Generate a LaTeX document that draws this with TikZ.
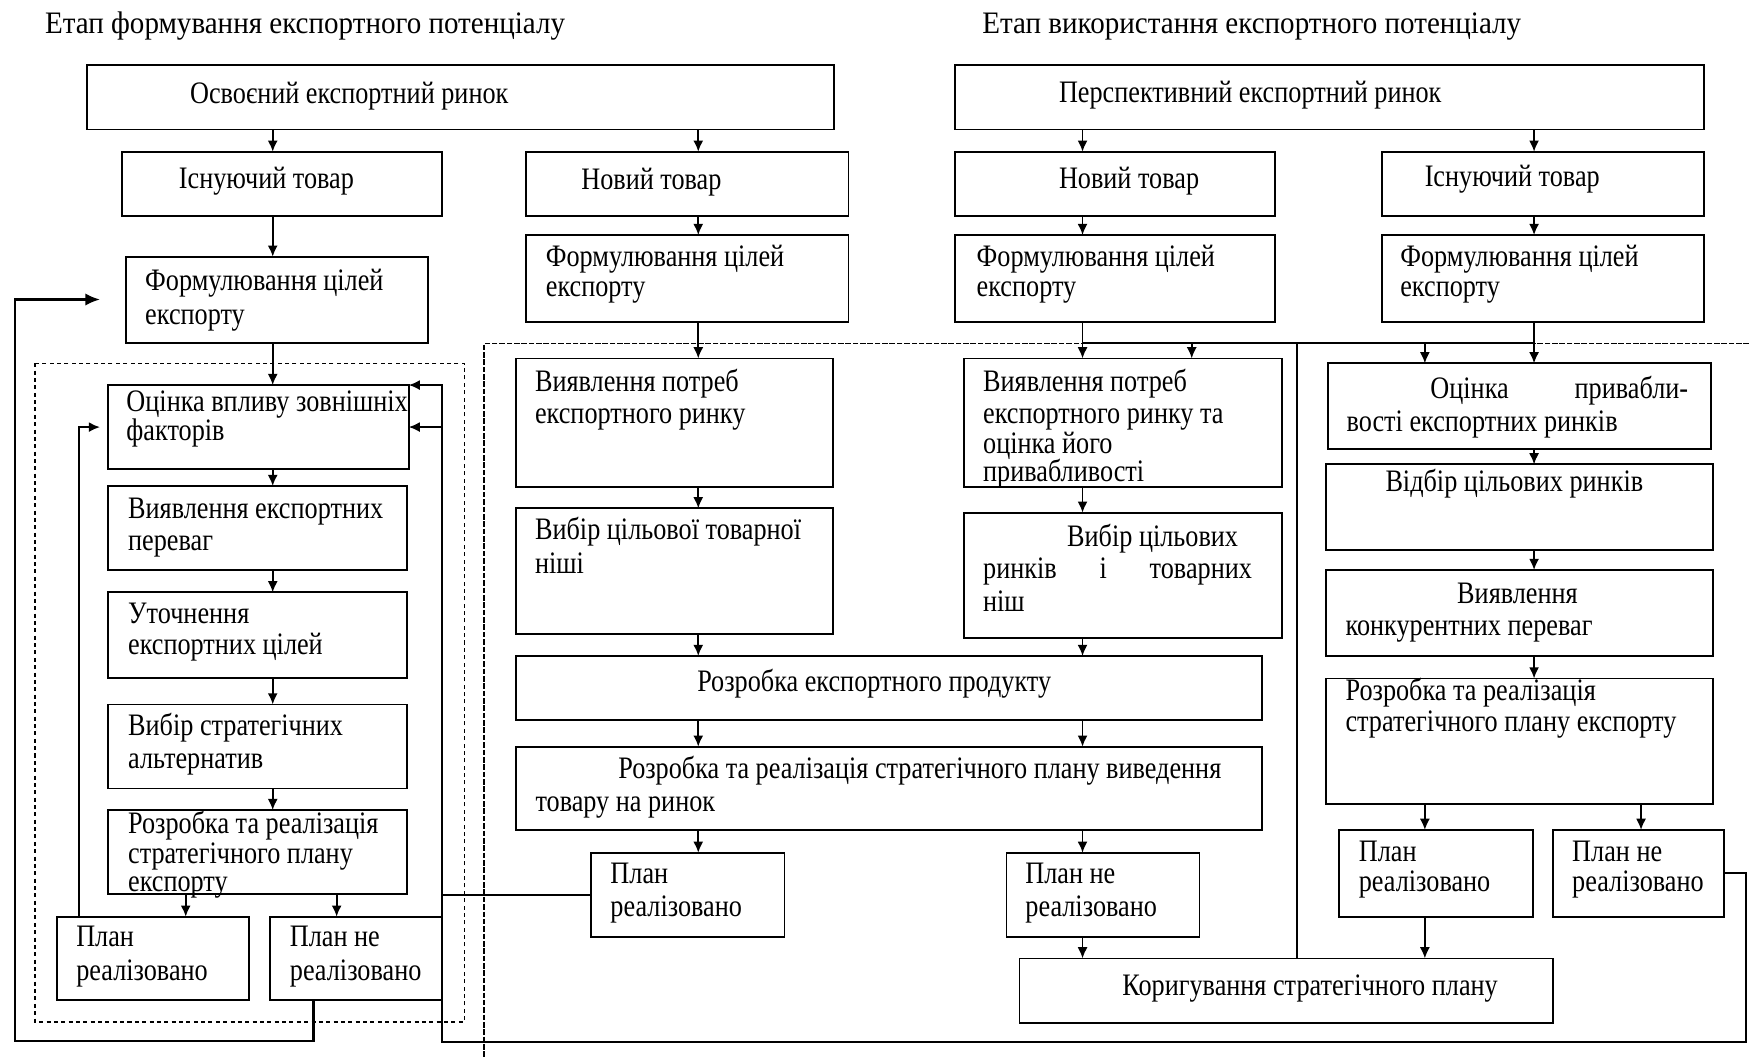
\documentclass[tikz,border=0pt]{standalone}
\usepackage{fontspec}
\setmainfont{Liberation Serif}[FakeStretch=0.84]
\newfontfamily\titlefont{Liberation Serif}[FakeStretch=0.93]
\usetikzlibrary{arrows.meta}
\newcommand\mkbox[5]{\node[boxs, minimum width={(#4-#2)*0.5pt}, minimum height={(#5-#3)*0.5pt}] (#1) at ({(#2+#4)/2},{(#3+#5)/2}) {};}
\newcommand\mktxt[4]{\node[txt] (#1) at (#2,#3) {#4};}
\begin{document}
\begin{tikzpicture}[x=0.5pt,y=-0.5pt,
 boxs/.style={draw, line width=0.8pt, inner sep=0pt, outer sep=0pt},
 txt/.style={anchor=base west, inner sep=0pt, font=\fontsize{14}{16}\selectfont},
 ttl/.style={anchor=base west, inner sep=0pt, font=\titlefont\fontsize{14}{16}\selectfont},
 ln/.style={line width=0.8pt},
 arr/.style={line width=0.8pt, -{Latex[length=5pt,width=4.5pt]}},
 bigarr/.style={line width=1pt, -{Latex[length=6.5pt,width=5.5pt]}},
 sdash/.style={line width=0.7pt, dash pattern=on 1.8pt off 1.5pt},
 ldash/.style={line width=0.6pt, dash pattern=on 2.5pt off 0.8pt}]
\useasboundingbox (0,0) rectangle (1568,949);

% dashed regions
\draw[sdash] (31.4,325.7) rectangle (416.3,916);
\draw[ldash] (1568,307.8) -- (434,307.8) -- (434,949);

% boxes
\mkbox{A}{78}{58.3}{748}{116}
\mkbox{B}{856.5}{58.3}{1527.5}{116}
\mkbox{C1}{109.2}{136}{396}{193.4}
\mkbox{C2}{471.5}{136}{760.7}{193.4}
\mkbox{C3}{856.5}{136}{1143.1}{193.4}
\mkbox{C4}{1238.7}{136}{1527.5}{193.4}
\mkbox{D1}{113.2}{230.1}{383.9}{307.8}
\mkbox{D2}{471.5}{210.7}{760.7}{288.4}
\mkbox{D3}{856.5}{210.7}{1143.1}{288.4}
\mkbox{D4}{1238.7}{210.7}{1527.5}{288.4}
\mkbox{E1}{96.5}{345.2}{366.4}{420.5}
\mkbox{E2}{96.5}{435.7}{364.6}{511}
\mkbox{E3}{96.5}{531}{364.6}{608}
\mkbox{E4}{96.5}{631.5}{364.6}{706.8}
\mkbox{E5}{96.5}{726.2}{364.6}{801.5}
\mkbox{F1}{51.4}{821.8}{223.2}{896.5}
\mkbox{F2}{242}{821.8}{396}{896.5}
\mkbox{G1}{462.4}{321.3}{746.8}{436.3}
\mkbox{G2}{462.4}{455.7}{746.8}{568.7}
\mkbox{G3}{864}{321.3}{1149.1}{436.3}
\mkbox{G4}{864}{459.6}{1149.1}{572.3}
\mkbox{H}{462.4}{588.1}{1131.3}{645.5}
\mkbox{I}{462.4}{669.4}{1131.3}{744.1}
\mkbox{J1}{530}{764.5}{703.4}{839.8}
\mkbox{J2}{902.4}{764.5}{1075.3}{839.8}
\mkbox{K}{913.9}{859.2}{1392}{916.9}
\mkbox{L1}{1190.6}{325.7}{1533.7}{402.6}
\mkbox{L2}{1188.8}{416.3}{1536}{493.1}
\mkbox{L3}{1188.8}{511}{1536}{587.9}
\mkbox{L4}{1188.8}{608.2}{1536}{720.8}
\mkbox{M1}{1200.5}{744}{1374.6}{821.8}
\mkbox{M2}{1392}{744}{1545.7}{821.8}

% column coordinates
\coordinate (xa) at (244.5,0);
\coordinate (xb) at (626,0);
\coordinate (xc) at (970.5,0);
\coordinate (xd) at (1375.3,0);
\coordinate (xe) at (1068.4,0);
\coordinate (xf) at (1277.4,0);
\coordinate (xg) at (1471.2,0);
\coordinate (xh) at (166.5,0);
\coordinate (xi) at (301.8,0);
\coordinate (bus) at (0,307.5);
\coordinate (dv) at (1162.8,0);

% connectors
\draw[arr] (A.south -| xa) -- (C1.north -| xa);
\draw[arr] (A.south -| xb) -- (C2.north -| xb);
\draw[arr] (B.south -| xc) -- (C3.north -| xc);
\draw[arr] (B.south -| xd) -- (C4.north -| xd);
\draw[arr] (C1.south -| xa) -- (D1.north -| xa);
\draw[arr] (C2.south -| xb) -- (D2.north -| xb);
\draw[arr] (C3.south -| xc) -- (D3.north -| xc);
\draw[arr] (C4.south -| xd) -- (D4.north -| xd);
\draw[arr] (D1.south -| xa) -- (E1.north -| xa);
\draw[arr] (E1.south -| xa) -- (E2.north -| xa);
\draw[arr] (E2.south -| xa) -- (E3.north -| xa);
\draw[arr] (E3.south -| xa) -- (E4.north -| xa);
\draw[arr] (E4.south -| xa) -- (E5.north -| xa);
\draw[arr] (E5.south -| xh) -- (F1.north -| xh);
\draw[arr] (E5.south -| xi) -- (F2.north -| xi);
\draw[arr] (D2.south -| xb) -- (G1.north -| xb);
\draw[arr] (G1.south -| xb) -- (G2.north -| xb);
\draw[arr] (G2.south -| xb) -- (H.north -| xb);
\draw[arr] (H.south -| xb) -- (I.north -| xb);
\draw[arr] (I.south -| xb) -- (J1.north -| xb);
\draw[arr] (D3.south -| xc) -- (G3.north -| xc);
\draw[arr] (G3.south -| xc) -- (G4.north -| xc);
\draw[arr] (G4.south -| xc) -- (H.north -| xc);
\draw[arr] (H.south -| xc) -- (I.north -| xc);
\draw[arr] (I.south -| xc) -- (J2.north -| xc);
\draw[arr] (J2.south -| xc) -- (K.north -| xc);
\draw[arr] (D4.south -| xd) -- (L1.north -| xd);
\draw[ln] (bus -| xc) -- (bus -| xd);
\draw[arr] (bus -| xe) -- (G3.north -| xe);
\draw[arr] (bus -| xf) -- (L1.north -| xf);
\draw[ln] (bus -| dv) -- (K.north -| dv);
\draw[arr] (L1.south -| xd) -- (L2.north -| xd);
\draw[arr] (L2.south -| xd) -- (L3.north -| xd);
\draw[arr] (L3.south -| xd) -- (L4.north -| xd);
\draw[arr] (L4.south -| xf) -- (M1.north -| xf);
\draw[arr] (L4.south -| xg) -- (M2.north -| xg);
\draw[arr] (M1.south -| xf) -- (K.north -| xf);

% feedback loops
\coordinate (rx) at (1565.5,934);
\coordinate (lx) at (396,934);
\draw[arr] (M2.east) -| (rx) -- (lx) |- (E1.north east);
\draw[arr] (lx |- E1.east) -- (E1.east);
\draw[ln] (J1.west) -- (lx |- J1.west);
\coordinate (xq) at (281,0);
\coordinate (ob) at (13.4,933.3);
\coordinate (pL) at (89.6,268.5);
\draw[bigarr] (F2.south -| xq) |- (ob) |- (pL);
\coordinate (ix) at (71.1,0);
\coordinate (pI) at (89.6,382.9);
\draw[arr] (F1.north -| ix) |- (pI);

% texts
\node[ttl] (tT1) at (40,30) {Етап формування експортного потенціалу};
\node[ttl] (tT2) at (880.3,30) {Етап використання експортного потенціалу};
\mktxt{tA}{170}{92.5}{Освоєний експортний ринок}
\mktxt{tB}{949}{92}{Перспективний експортний ринок}
\mktxt{tC1}{160}{168.8}{Існуючий товар}
\mktxt{tC2}{520.8}{170}{Новий товар}
\mktxt{tC3}{949}{169}{Новий товар}
\mktxt{tC4}{1276.9}{167.4}{Існуючий товар}
\mktxt{tD1a}{129.8}{260}{Формулювання цілей}
\mktxt{tD1b}{129.8}{291}{експорту}
\mktxt{tD2a}{489}{239}{Формулювання цілей}
\mktxt{tD2b}{489}{266}{експорту}
\mktxt{tD3a}{875.2}{239}{Формулювання цілей}
\mktxt{tD3b}{875.2}{266}{експорту}
\mktxt{tD4a}{1255}{239}{Формулювання цілей}
\mktxt{tD4b}{1255}{266}{експорту}
\mktxt{tE1a}{113}{369.1}{Оцінка впливу зовнішніх}
\mktxt{tE1b}{113}{394.5}{факторів}
\mktxt{tE2a}{114.5}{464.7}{Виявлення експортних}
\mktxt{tE2b}{114.5}{493.1}{переваг}
\mktxt{tE3a}{114.5}{558.8}{Уточнення}
\mktxt{tE3b}{114.5}{587.2}{експортних цілей}
\mktxt{tE4a}{114.5}{659}{Вибір стратегічних}
\mktxt{tE4b}{114.5}{688.8}{альтернатив}
\mktxt{tE5a}{114.5}{747.1}{Розробка та реалізація}
\mktxt{tE5b}{114.5}{774}{стратегічного плану}
\mktxt{tE5c}{114.5}{799.4}{експорту}
\mktxt{tF1a}{68}{848.7}{План}
\mktxt{tF1b}{68}{878.6}{реалізовано}
\mktxt{tF2a}{259.5}{848.7}{План не}
\mktxt{tF2b}{259.5}{878.6}{реалізовано}
\mktxt{tG1a}{479.3}{351.1}{Виявлення потреб}
\mktxt{tG1b}{479.3}{379.5}{експортного ринку}
\mktxt{tG2a}{479.3}{484.1}{Вибір цільової товарної}
\mktxt{tG2b}{479.3}{514}{ніші}
\mktxt{tG3a}{881}{351.1}{Виявлення потреб}
\mktxt{tG3b}{881}{379.5}{експортного ринку та}
\mktxt{tG3c}{881}{406.4}{оцінка його}
\mktxt{tG3d}{881}{431.8}{привабливості}
\mktxt{tG4a}{956.3}{490.1}{Вибір цільових}
\mktxt{tG4b}{881}{518.5}{\makebox[120.5pt][l]{ринків\hfill і\hfill товарних}}
\mktxt{tG4c}{881}{548.4}{ніш}
\mktxt{tH}{624.7}{620.1}{Розробка експортного продукту}
\mktxt{tIa}{553.9}{697.8}{\makebox[270.3pt][s]{Розробка та реалізація стратегічного плану виведення}}
\mktxt{tIb}{479.7}{727.7}{товару на ринок}
\mktxt{tJ1a}{546.9}{792}{План}
\mktxt{tJ1b}{546.9}{821.8}{реалізовано}
\mktxt{tJ2a}{918.9}{792}{План не}
\mktxt{tJ2b}{918.9}{821.8}{реалізовано}
\mktxt{tK}{1005.8}{892.1}{Коригування стратегічного плану}
\mktxt{tL1a}{1282}{357.1}{\makebox[115.5pt][l]{Оцінка\hfill привабли-}}
\mktxt{tL1b}{1206.8}{387}{вості експортних ринків}
\mktxt{tL2}{1241.7}{440.8}{Відбір цільових ринків}
\mktxt{tL3a}{1306}{540.9}{Виявлення}
\mktxt{tL3b}{1205.9}{569.3}{конкурентних переваг}
\mktxt{tL4a}{1205.9}{627.6}{Розробка та реалізація}
\mktxt{tL4b}{1205.9}{656}{стратегічного плану експорту}
\mktxt{tM1a}{1217.8}{772.5}{План}
\mktxt{tM1b}{1217.8}{799.4}{реалізовано}
\mktxt{tM2a}{1409.1}{772.5}{План не}
\mktxt{tM2b}{1409.1}{799.4}{реалізовано}
\end{tikzpicture}
\end{document}
